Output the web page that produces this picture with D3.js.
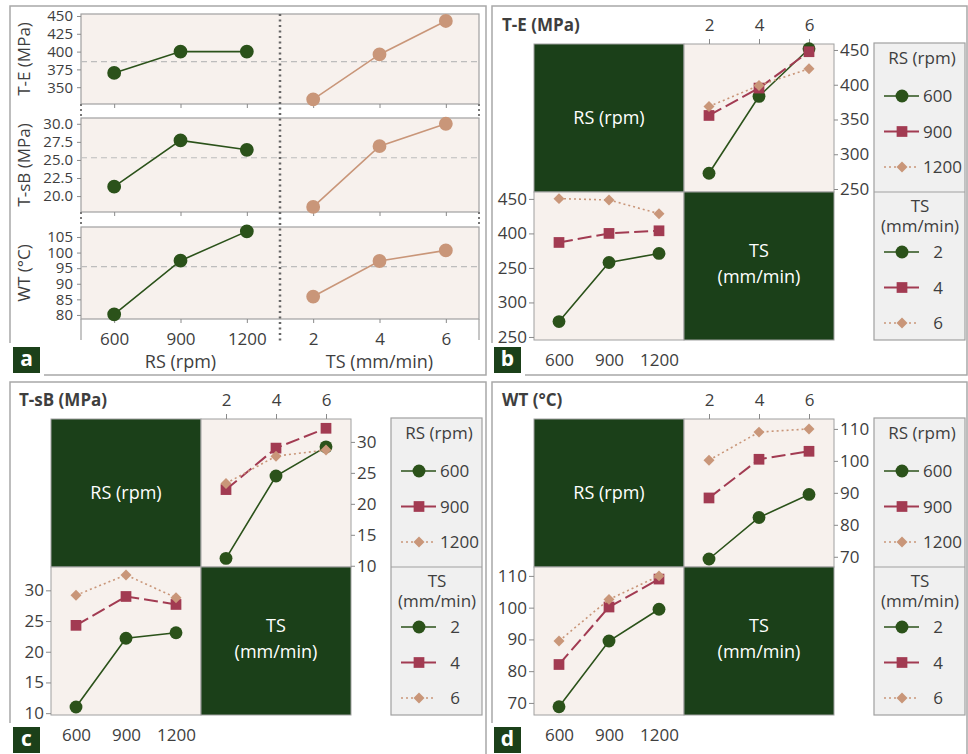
<!doctype html>
<html>
<head>
<script src="https://cdnjs.cloudflare.com/ajax/libs/d3/7.8.5/d3.min.js"></script>
<style>
  body { margin: 0; background: #fff; }
  svg text { font-family: "Open Sans", sans-serif; }
</style>
</head>
<body>
<svg id="chart" width="968" height="754"></svg>
<script>
// factor levels
var rsLevels = [600, 900, 1200];
var tsLevels = [2, 4, 6];

// panel a - main effect means
var teRS = [370, 400, 400];
var teTS = [333, 396, 443];
var teMean = 386;
var tsbRS = [21.3, 27.7, 26.4];
var tsbTS = [18.5, 26.9, 30.0];
var tsbMean = 25.3;
var wtRS = [80.2, 97.4, 106.8];
var wtTS = [85.9, 97.3, 100.7];
var wtMean = 95.5;

var teTicksA = [350, 375, 400, 425, 450];
var tsbTicksA = [20, 22.5, 25, 27.5, 30];
var wtTicksA = [80, 85, 90, 95, 100, 105];

// interaction plots: one row per RS level (across TS), one row per TS level (across RS)
var teByRS = [[272.6, 383.3, 451.8], [355.8, 395.2, 447.5], [368.7, 399.0, 423.0]];
var teByTS = [[272.3, 357.9, 371.0], [386.9, 400.0, 403.8], [450.4, 448.5, 428.6]];
var tsbByRS = [[11.2, 24.5, 29.2], [22.3, 29.0, 32.2], [23.3, 27.7, 28.7]];
var tsbByTS = [[11.0, 22.2, 23.1], [24.3, 29.0, 27.7], [29.2, 32.5, 28.8]];
var wtByRS = [[69.3, 82.3, 89.5], [88.4, 100.5, 103.0], [100.2, 109.0, 110.0]];
var wtByTS = [[68.8, 89.5, 99.5], [82.1, 100.2, 109.0], [89.5, 102.6, 110.0]];

var teTicks = [250, 300, 350, 400, 450];
var teTickLabelsLow = ["250", "300", "250", "400", "450"];   // as printed
var tsbTicks = [10, 15, 20, 25, 30];
var wtTicks = [70, 80, 90, 100, 110];

var svg = d3.select("#chart");
var green = "#2b521a", maroon = "#a23b52", tan = "#c99679", dark = "#1b4019";
var cellBg = "#f7f1ed", line = "#a0a0a0", txt = "#3e3e3e";

var styles = [
  {color: green, sym: d3.symbolCircle, size: 130, dash: null, w: 1.6, rot: 0},
  {color: maroon, sym: d3.symbolSquare, size: 115, dash: "14,5", w: 2, rot: 0},
  {color: tan, sym: d3.symbolSquare, size: 60, dash: "2,3", w: 1.6, rot: 45}
];

function frame(x0, y0, x1, y1, lx, ly, letter) {
  svg.append("path")
    .attr("d", "M" + (lx + 31) + "," + y1 + "H" + x1 + "V" + y0 + "H" + x0 + "V" + (ly - 4))
    .attr("fill", "none").attr("stroke", "#a8a8a8").attr("stroke-width", 1.5);
  svg.append("rect").attr("x", lx).attr("y", ly).attr("width", 27).attr("height", 26).attr("fill", dark);
  svg.append("text").attr("x", lx + 13.5).attr("y", ly + 19).attr("text-anchor", "middle")
    .attr("fill", "#fff").attr("font-size", 21).attr("font-weight", "bold").text(letter);
}

function styleAxis(g, size) {
  g.select(".domain").remove();
  g.selectAll(".tick line").attr("stroke", "#8a8a8a");
  g.selectAll(".tick text").attr("fill", txt).attr("font-size", size || 16)
    .style("font-family", '"Open Sans", sans-serif');
}

function series(g, xs, vals, y, st) {
  var pts = xs.map(function (x, i) { return [x, vals[i]]; });
  g.append("path").datum(pts)
    .attr("d", d3.line().x(function (d) { return d[0]; }).y(function (d) { return y(d[1]); }))
    .attr("fill", "none").attr("stroke", st.color).attr("stroke-width", st.w)
    .attr("stroke-dasharray", st.dash);
  g.selectAll(null).data(pts).enter().append("path")
    .attr("d", d3.symbol().type(st.sym).size(st.size))
    .attr("transform", function (d) { return "translate(" + d[0] + "," + y(d[1]) + ") rotate(" + st.rot + ")"; })
    .attr("fill", st.color);
}

// ---------- panel a ----------
frame(10, 6, 486, 375, 13, 347, "a");

var aL = 81, aM = 280, aR = 479;
var xRS = d3.scalePoint().domain(rsLevels).range([aL, aM]).padding(0.5);
var xTS = d3.scalePoint().domain(tsLevels).range([aM, aR]).padding(0.5);

var rowsA = [
  {title: "T-E (MPa)", rs: teRS, ts: teTS, mean: teMean, ticks: teTicksA, fmt: d3.format("d"), dom: [326.4, 452.8], y0: 14, y1: 104},
  {title: "T-sB (MPa)", rs: tsbRS, ts: tsbTS, mean: tsbMean, ticks: tsbTicksA, fmt: d3.format(".1f"), dom: [17.8, 30.8], y0: 118, y1: 212},
  {title: "WT (°C)", rs: wtRS, ts: wtTS, mean: wtMean, ticks: wtTicksA, fmt: d3.format("d"), dom: [78.7, 108.2], y0: 227, y1: 319}
];

var gA = svg.append("g");
rowsA.forEach(function (r, i) {
  var y = d3.scaleLinear().domain(r.dom).range([r.y1, r.y0]);
  gA.append("rect").attr("x", aL).attr("y", r.y0).attr("width", aR - aL).attr("height", r.y1 - r.y0)
    .attr("fill", cellBg).attr("stroke", line).attr("stroke-width", 1.2);
  gA.append("line").attr("x1", aL).attr("x2", aR).attr("y1", y(r.mean)).attr("y2", y(r.mean))
    .attr("stroke", "#bdbdbd").attr("stroke-width", 1.2).attr("stroke-dasharray", "6,4");
  gA.append("g").attr("transform", "translate(" + aL + ",0)")
    .call(d3.axisLeft(y).tickValues(r.ticks).tickFormat(r.fmt).tickSize(4).tickPadding(4))
    .call(styleAxis, 15);
  // small ticks along each subplot bottom
  gA.append("g").attr("transform", "translate(0," + r.y1 + ")")
    .call(d3.axisBottom(xRS).tickSize(4).tickFormat(""))
    .call(styleAxis);
  gA.append("g").attr("transform", "translate(0," + r.y1 + ")")
    .call(d3.axisBottom(xTS).tickSize(4).tickFormat(""))
    .call(styleAxis);
  series(gA, rsLevels.map(xRS), r.rs, y, {color: green, sym: d3.symbolCircle, size: 150, w: 1.6, rot: 0});
  series(gA, tsLevels.map(xTS), r.ts, y, {color: tan, sym: d3.symbolCircle, size: 150, w: 1.6, rot: 0});
  gA.append("text").attr("transform", "translate(30," + (r.y0 + r.y1) / 2 + ") rotate(-90)")
    .attr("text-anchor", "middle").attr("fill", txt).attr("font-size", 17).text(r.title);
  if (i < 2) {
    [aL, aR].forEach(function (x) {
      gA.append("line").attr("x1", x).attr("x2", x).attr("y1", r.y1).attr("y2", rowsA[i + 1].y0)
        .attr("stroke", "#777").attr("stroke-width", 2).attr("stroke-dasharray", "2,3");
    });
  }
});
[aL, aR].forEach(function (x) {
  gA.append("line").attr("x1", x).attr("x2", x).attr("y1", 319).attr("y2", 340)
    .attr("stroke", line).attr("stroke-width", 1.2);
});
gA.append("line").attr("x1", aM).attr("x2", aM).attr("y1", 14).attr("y2", 342)
  .attr("stroke", "#666").attr("stroke-width", 2.5).attr("stroke-dasharray", "2,3.5");
gA.append("g").attr("transform", "translate(0,319)")
  .call(d3.axisBottom(xRS).tickSize(0).tickPadding(14)).call(styleAxis, 17);
gA.append("g").attr("transform", "translate(0,319)")
  .call(d3.axisBottom(xTS).tickSize(0).tickPadding(14)).call(styleAxis, 17);
gA.append("text").attr("x", (aL + aM) / 2).attr("y", 368).attr("text-anchor", "middle")
  .attr("fill", txt).attr("font-size", 18).text("RS (rpm)");
gA.append("text").attr("x", (aM + aR) / 2).attr("y", 368).attr("text-anchor", "middle")
  .attr("fill", txt).attr("font-size", 18).text("TS (mm/min)");

// ---------- interaction panels ----------
var cw = 150, ch = 148;

function interaction(cfg) {
  var mx = cfg.mx, my = cfg.my;
  var g = svg.append("g");
  var xT = d3.scalePoint().domain(tsLevels).range([mx + cw, mx + 2 * cw]).padding(0.5);
  var xR = d3.scalePoint().domain(rsLevels).range([mx, mx + cw]).padding(0.5);
  var yT = d3.scaleLinear().domain(cfg.domTop).range([my + ch, my]);
  var yL = d3.scaleLinear().domain(cfg.domLow).range([my + 2 * ch, my + ch]);

  g.append("text").attr("x", mx - 32).attr("y", my - 13).attr("fill", txt)
    .attr("font-size", 17).attr("font-weight", "bold").text(cfg.title);

  // cells
  [[0, 0, dark], [1, 0, cellBg], [0, 1, cellBg], [1, 1, dark]].forEach(function (c) {
    g.append("rect").attr("x", mx + c[0] * cw).attr("y", my + c[1] * ch).attr("width", cw).attr("height", ch)
      .attr("fill", c[2]).attr("stroke", line).attr("stroke-width", 1);
  });
  g.append("text").attr("x", mx + cw / 2).attr("y", my + ch / 2 + 6).attr("text-anchor", "middle")
    .attr("fill", "#fff").attr("font-size", 18).text("RS (rpm)");
  g.append("text").attr("x", mx + 1.5 * cw).attr("y", my + ch + 65).attr("text-anchor", "middle")
    .attr("fill", "#fff").attr("font-size", 18).text("TS");
  g.append("text").attr("x", mx + 1.5 * cw).attr("y", my + ch + 91).attr("text-anchor", "middle")
    .attr("fill", "#fff").attr("font-size", 18).text("(mm/min)");

  // axes
  g.append("g").attr("transform", "translate(0," + my + ")")
    .call(d3.axisTop(xT).tickSize(5).tickPadding(8)).call(styleAxis, 17);
  g.append("g").attr("transform", "translate(" + (mx + 2 * cw) + ",0)")
    .call(d3.axisRight(yT).tickValues(cfg.ticks).tickSize(4).tickPadding(2)).call(styleAxis, 17);
  g.append("g").attr("transform", "translate(" + mx + ",0)")
    .call(d3.axisLeft(yL).tickValues(cfg.ticks).tickSize(5).tickPadding(2)
      .tickFormat(function (d, i) { return cfg.labelsLow ? cfg.labelsLow[i] : d; }))
    .call(styleAxis, 17);
  g.append("g").attr("transform", "translate(0," + (my + 2 * ch) + ")")
    .call(d3.axisBottom(xR).tickSize(0).tickPadding(14)).call(styleAxis, 17);

  cfg.byRS.forEach(function (vals, i) { series(g, tsLevels.map(xT), vals, yT, styles[i]); });
  cfg.byTS.forEach(function (vals, i) { series(g, rsLevels.map(xR), vals, yL, styles[i]); });

  // legend
  var lx = mx + 2 * cw + 40, lw = 91;
  g.append("rect").attr("x", lx).attr("y", my - 1).attr("width", lw).attr("height", 2 * ch + 1)
    .attr("fill", "#f0f0f0").attr("stroke", "#a0a0a0").attr("stroke-width", 1.2);
  g.append("line").attr("x1", lx).attr("x2", lx + lw).attr("y1", my + ch).attr("y2", my + ch)
    .attr("stroke", "#a0a0a0").attr("stroke-width", 1.2);
  g.append("text").attr("x", lx + 48).attr("y", my + 20).attr("text-anchor", "middle")
    .attr("fill", txt).attr("font-size", 17).text("RS (rpm)");
  g.append("text").attr("x", lx + 46).attr("y", my + ch + 20).attr("text-anchor", "middle")
    .attr("fill", txt).attr("font-size", 17).text("TS");
  g.append("text").attr("x", lx + 46).attr("y", my + ch + 40).attr("text-anchor", "middle")
    .attr("fill", txt).attr("font-size", 17).text("(mm/min)");
  rsLevels.forEach(function (v, i) {
    var yy = my + 52 + i * 35.5;
    legendItem(g, lx, yy, styles[i]);
    g.append("text").attr("x", lx + 49).attr("y", yy + 6).attr("fill", txt).attr("font-size", 17).text(v);
  });
  tsLevels.forEach(function (v, i) {
    var yy = my + ch + 60 + i * 35.5;
    legendItem(g, lx, yy, styles[i]);
    g.append("text").attr("x", lx + 64).attr("y", yy + 6).attr("text-anchor", "middle")
      .attr("fill", txt).attr("font-size", 17).text(v);
  });
}

function legendItem(g, lx, yy, st) {
  g.append("line").attr("x1", lx + 10).attr("x2", lx + 45).attr("y1", yy).attr("y2", yy)
    .attr("stroke", st.color).attr("stroke-width", st.w)
    .attr("stroke-dasharray", st.dash && st.dash.indexOf("2,") === 0 ? st.dash : null);
  g.append("path").attr("d", d3.symbol().type(st.sym).size(st.size)())
    .attr("transform", "translate(" + (lx + 28) + "," + yy + ") rotate(" + st.rot + ")")
    .attr("fill", st.color);
}

frame(492, 6, 967, 375, 494, 347, "b");
interaction({mx: 534, my: 44, title: "T-E (MPa)", byRS: teByRS, byTS: teByTS,
  domTop: [245.7, 458.6], domLow: [245.6, 460], ticks: teTicks, labelsLow: teTickLabelsLow});

frame(10, 382, 486, 770, 13, 727, "c");
interaction({mx: 51, my: 419, title: "T-sB (MPa)", byRS: tsbByRS, byTS: tsbByTS,
  domTop: [9.8, 33.7], domLow: [9.7, 33.8], ticks: tsbTicks});

frame(492, 382, 967, 770, 494, 727, "d");
interaction({mx: 534, my: 419, title: "WT (°C)", byRS: wtByRS, byTS: wtByTS,
  domTop: [66.8, 113.1], domLow: [66.2, 112.8], ticks: wtTicks});
</script>
</body>
</html>
